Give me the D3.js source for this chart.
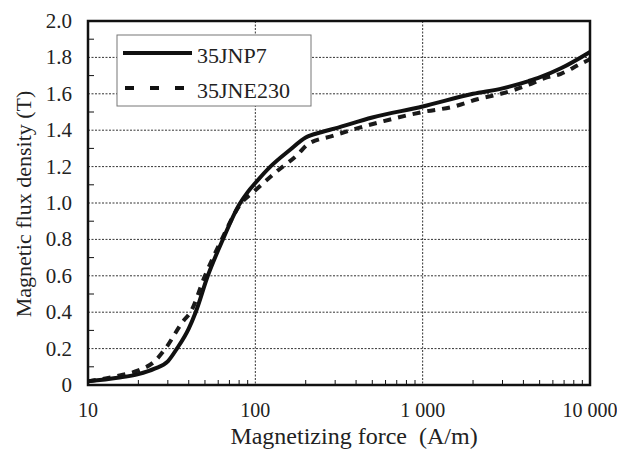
<!DOCTYPE html>
<meta charset="utf-8">
<script src="https://d3js.org/d3.v7.min.js"></script>
<style>
  body { margin: 0; background: #fff; }
  text { font-family: "Liberation Serif", "Times New Roman", serif; fill: #222; }
</style>

<svg id="chart" width="617" height="450"></svg>

<script>
  // data
  var seriesNames = ["35JNP7", "35JNE230"];
  var hJNP7 = [10, 15, 20, 25, 30, 34, 40, 44, 52, 64, 80, 90, 100, 123, 160, 200, 250, 300, 500, 1000, 2000, 3000, 4300, 5000, 6700, 10000];
  var bJNP7 = [0.02, 0.04, 0.06, 0.09, 0.13, 0.2, 0.31, 0.4, 0.6, 0.8, 0.99, 1.06, 1.11, 1.2, 1.29, 1.36, 1.39, 1.41, 1.47, 1.53, 1.6, 1.63, 1.67, 1.69, 1.74, 1.83];
  var hJNE230 = [10, 15, 20, 25, 29, 37, 41, 50, 63, 81, 100, 137, 181, 204, 293, 586, 1000, 1535, 2123, 2930, 4315, 5310, 6700, 8600, 10000];
  var bJNE230 = [0.02, 0.05, 0.08, 0.13, 0.2, 0.35, 0.4, 0.6, 0.8, 0.99, 1.07, 1.18, 1.27, 1.32, 1.37, 1.45, 1.5, 1.53, 1.57, 1.6, 1.65, 1.685, 1.71, 1.76, 1.79];

  var xTicks = [10, 100, 1000, 10000];
  var xTickLabels = ["10", "100", "1 000", "10 000"];
  var yTicks = [0, 0.2, 0.4, 0.6, 0.8, 1.0, 1.2, 1.4, 1.6, 1.8, 2.0];
  var yTickLabels = ["0", "0.2", "0.4", "0.6", "0.8", "1.0", "1.2", "1.4", "1.6", "1.8", "2.0"];

  var svg = d3.select("#chart");
  var plotL = 88, plotR = 590, plotT = 21, plotB = 385;

  var x = d3.scaleLog().domain([10, 10000]).range([plotL, plotR]);
  var y = d3.scaleLinear().domain([0, 2]).range([plotB, plotT]);

  // grid
  svg.append("g")
    .selectAll("line")
    .data(yTicks.slice(1, -1))
    .enter()
    .append("line")
      .attr("x1", plotL).attr("x2", plotR)
      .attr("y1", function(d) { return y(d); })
      .attr("y2", function(d) { return y(d); })
      .attr("stroke", "#333")
      .attr("stroke-width", 1)
      .attr("stroke-dasharray", "2,1.5");

  svg.append("g")
    .selectAll("line")
    .data(xTicks.slice(1, -1))
    .enter()
    .append("line")
      .attr("x1", function(d) { return x(d); })
      .attr("x2", function(d) { return x(d); })
      .attr("y1", plotT).attr("y2", plotB)
      .attr("stroke", "#333")
      .attr("stroke-width", 1)
      .attr("stroke-dasharray", "2,1.5");

  // minor ticks
  var yMinor = d3.range(1, 20, 2).map(function(i) { return i / 10; });
  svg.append("g")
    .selectAll("line")
    .data(yMinor)
    .enter()
    .append("line")
      .attr("x1", plotL).attr("x2", plotL + 6)
      .attr("y1", function(d) { return y(d); })
      .attr("y2", function(d) { return y(d); })
      .attr("stroke", "#111");

  var xMinor = [];
  [10, 100, 1000].forEach(function(dec) {
    for (var k = 2; k <= 9; k++) xMinor.push(dec * k);
  });
  svg.append("g")
    .selectAll("line")
    .data(xMinor)
    .enter()
    .append("line")
      .attr("x1", function(d) { return x(d); })
      .attr("x2", function(d) { return x(d); })
      .attr("y1", plotB).attr("y2", plotB - 5)
      .attr("stroke", "#111");

  // curves
  var line = d3.line()
    .x(function(d) { return x(d[0]); })
    .y(function(d) { return y(d[1]); })
    .curve(d3.curveMonotoneX);

  svg.append("path")
    .datum(d3.zip(hJNE230, bJNE230))
    .attr("d", line)
    .attr("fill", "none")
    .attr("stroke", "#1a1a1a")
    .attr("stroke-width", 4)
    .attr("stroke-dasharray", "8,7");

  svg.append("path")
    .datum(d3.zip(hJNP7, bJNP7))
    .attr("d", line)
    .attr("fill", "none")
    .attr("stroke", "#111")
    .attr("stroke-width", 4);

  // frame
  svg.append("rect")
    .attr("x", plotL).attr("y", plotT)
    .attr("width", plotR - plotL).attr("height", plotB - plotT)
    .attr("fill", "none")
    .attr("stroke", "#111")
    .attr("stroke-width", 2.5);

  // tick labels
  svg.append("g")
    .selectAll("text")
    .data(yTicks)
    .enter()
    .append("text")
      .attr("x", 72)
      .attr("y", function(d) { return y(d) + 7; })
      .attr("text-anchor", "end")
      .style("font-size", "21px")
      .text(function(d, i) { return yTickLabels[i]; });

  svg.append("g")
    .selectAll("text")
    .data(xTicks)
    .enter()
    .append("text")
      .attr("x", function(d) { return x(d); })
      .attr("y", 417)
      .attr("text-anchor", "middle")
      .style("font-size", "20px")
      .text(function(d, i) { return xTickLabels[i]; });

  // axis titles
  svg.append("text")
    .attr("transform", "translate(354,444)")
    .attr("text-anchor", "middle")
    .style("font-size", "24px")
    .text("Magnetizing force\u00a0 (A/m)");

  svg.append("text")
    .attr("transform", "translate(31,204) rotate(-90)")
    .attr("text-anchor", "middle")
    .style("font-size", "22px")
    .text("Magnetic flux density (T)");

  // legend
  var legend = svg.append("g");
  legend.append("rect")
    .attr("x", 117).attr("y", 35)
    .attr("width", 194).attr("height", 71)
    .attr("fill", "#fff")
    .attr("stroke", "#777")
    .attr("stroke-width", 1);

  legend.append("line")
    .attr("x1", 123).attr("x2", 192)
    .attr("y1", 53).attr("y2", 53)
    .attr("stroke", "#111").attr("stroke-width", 4);
  legend.append("line")
    .attr("x1", 125).attr("x2", 184)
    .attr("y1", 88).attr("y2", 88)
    .attr("stroke", "#111").attr("stroke-width", 4)
    .attr("stroke-dasharray", "9,16");

  legend.selectAll("text")
    .data(seriesNames)
    .enter()
    .append("text")
      .attr("x", 197)
      .attr("y", function(d, i) { return 63 + i * 35; })
      .style("font-size", "22px")
      .text(function(d) { return d; });
</script>
